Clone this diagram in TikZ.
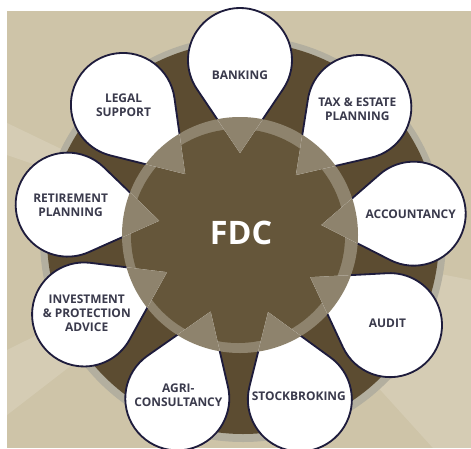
\documentclass[tikz,border=0pt]{standalone}
\usepackage{fontspec}
\setmainfont{Open Sans}
\definecolor{beige}{HTML}{CEC4A8}
\definecolor{ringgrey}{HTML}{B3AF9F}
\definecolor{darkbrown}{HTML}{5C4C31}
\definecolor{midbrown}{HTML}{8E836D}
\definecolor{corebrown}{HTML}{65563A}
\definecolor{dropline}{HTML}{1E1C3C}
\definecolor{labeltext}{HTML}{3A3A4C}
% one teardrop, bulb at 175 from the centre, tip at 82
\newcommand{\droppath}[1]{(#1:82) -- ([shift={(#1:175)}]#1-124:52)
  arc[start angle=#1-124, end angle=#1+124, radius=52] -- cycle}
\begin{document}
\begin{tikzpicture}[x=0.025cm, y=0.025cm,
    drop/.style={fill=white},
    dropedge/.style={draw=dropline, line width=1.3pt, line join=round},
    droplabel/.style={text=labeltext, align=center,
      font=\bfseries\fontsize{8.5}{10}\selectfont}]
      \useasboundingbox (-240,-213) rectangle (231,235);
      \fill[white] (-240,-213) rectangle (231,235);
      \fill[beige] (-233,-213) rectangle (231,224);      % background
      %
      \fill[white, opacity=0.15] (0,0) -- (-233,112) -- (-233,80) -- cycle; % rays
      \fill[white, opacity=0.15] (0,0) -- (-233,-115) -- (-233,-180) -- cycle;
      \fill[white, opacity=0.15] (0,0) -- (231,-45) -- (231,-213) -- (193,-213) -- cycle;
      %
      \fill[ringgrey] (3,-4) circle (203);               % rings
      \fill[darkbrown] (3,-3) circle (196);
      \fill[midbrown] (0,0) circle (118);
      \fill[corebrown] (-2,-1) circle (107);
      %
      \foreach \ang in {90,47,7,-31,-70,-111,-153,170,132}{
        \fill[drop] \droppath{\ang};                     % white drops
        \begin{scope}
          \clip \droppath{\ang};
          \fill[midbrown] (0,0) circle (118);            % tips
        \end{scope}
      }
      %
      \begin{scope}
        \clip (-300,-300) -- (-300,300) -- (300,300) -- (300,-300) -- cycle
              (0,0) circle (118);
        \foreach \ang in {90,47,7,-31,-70,-111,-153,170,132}
          \draw[dropedge] \droppath{\ang};               % outlines
      \end{scope}
      %
      \foreach \ang/\dist/\txt [count=\i] in {90/160/BANKING,
          47/172/{TAX \& ESTATE\\PLANNING}, 7/172/ACCOUNTANCY,
          -31/172/AUDIT, -70/172/STOCKBROKING, -111/172/{AGRI-\\CONSULTANCY},
          -153/172/{INVESTMENT\\\& PROTECTION\\ADVICE},
          170/172/{RETIREMENT\\PLANNING}, 132/174/{LEGAL\\SUPPORT}}
        \node[droplabel] (lbl\i) at (\ang:\dist) {\txt};
      %
      \node[text=white, font=\bfseries\fontsize{23}{27}\selectfont] (fdc) at (1,2) {FDC};
    \end{tikzpicture}
\end{document}
